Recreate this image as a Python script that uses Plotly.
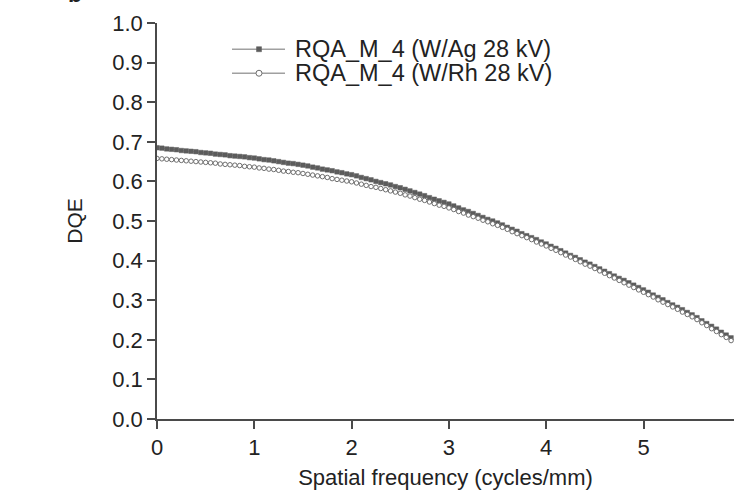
import plotly.graph_objects as go

freq = [0.00, 0.05, 0.10, 0.15, 0.20, 0.25, 0.30, 0.35, 0.40, 0.45,
        0.50, 0.55, 0.60, 0.65, 0.70, 0.75, 0.80, 0.85, 0.90, 0.95,
        1.00, 1.05, 1.10, 1.15, 1.20, 1.25, 1.30, 1.35, 1.40, 1.45,
        1.50, 1.55, 1.60, 1.65, 1.70, 1.75, 1.80, 1.85, 1.90, 1.95,
        2.00, 2.05, 2.10, 2.15, 2.20, 2.25, 2.30, 2.35, 2.40, 2.45,
        2.50, 2.55, 2.60, 2.65, 2.70, 2.75, 2.80, 2.85, 2.90, 2.95,
        3.00, 3.05, 3.10, 3.15, 3.20, 3.25, 3.30, 3.35, 3.40, 3.45,
        3.50, 3.55, 3.60, 3.65, 3.70, 3.75, 3.80, 3.85, 3.90, 3.95,
        4.00, 4.05, 4.10, 4.15, 4.20, 4.25, 4.30, 4.35, 4.40, 4.45,
        4.50, 4.55, 4.60, 4.65, 4.70, 4.75, 4.80, 4.85, 4.90, 4.95,
        5.00, 5.05, 5.10, 5.15, 5.20, 5.25, 5.30, 5.35, 5.40, 5.45,
        5.50, 5.55, 5.60, 5.65, 5.70, 5.75, 5.80, 5.85, 5.90]

dqe_ag = [0.685, 0.684, 0.682, 0.681, 0.680, 0.678, 0.677, 0.676, 0.675, 0.673,
          0.672, 0.671, 0.669, 0.668, 0.667, 0.665, 0.664, 0.663, 0.662, 0.660,
          0.659, 0.657, 0.655, 0.654, 0.652, 0.650, 0.648, 0.646, 0.645, 0.643,
          0.641, 0.639, 0.636, 0.634, 0.631, 0.629, 0.627, 0.624, 0.622, 0.619,
          0.617, 0.614, 0.610, 0.607, 0.604, 0.600, 0.597, 0.594, 0.591, 0.587,
          0.584, 0.580, 0.576, 0.572, 0.568, 0.564, 0.559, 0.555, 0.551, 0.547,
          0.543, 0.538, 0.533, 0.528, 0.524, 0.519, 0.514, 0.509, 0.504, 0.500,
          0.495, 0.490, 0.484, 0.479, 0.474, 0.468, 0.463, 0.458, 0.453, 0.447,
          0.442, 0.436, 0.431, 0.425, 0.419, 0.413, 0.408, 0.402, 0.396, 0.391,
          0.385, 0.379, 0.373, 0.367, 0.361, 0.355, 0.350, 0.344, 0.338, 0.332,
          0.326, 0.320, 0.313, 0.307, 0.301, 0.294, 0.288, 0.282, 0.276, 0.269,
          0.263, 0.256, 0.248, 0.241, 0.234, 0.227, 0.219, 0.212, 0.205]

dqe_rh = [0.658, 0.657, 0.656, 0.655, 0.654, 0.653, 0.652, 0.651, 0.650, 0.649,
          0.648, 0.647, 0.646, 0.644, 0.643, 0.642, 0.641, 0.640, 0.638, 0.637,
          0.636, 0.634, 0.633, 0.631, 0.630, 0.628, 0.626, 0.625, 0.623, 0.622,
          0.620, 0.618, 0.616, 0.614, 0.612, 0.610, 0.607, 0.605, 0.603, 0.601,
          0.599, 0.596, 0.593, 0.590, 0.587, 0.585, 0.582, 0.579, 0.576, 0.573,
          0.570, 0.566, 0.563, 0.559, 0.555, 0.552, 0.548, 0.544, 0.540, 0.537,
          0.533, 0.529, 0.524, 0.520, 0.515, 0.511, 0.507, 0.502, 0.498, 0.493,
          0.489, 0.484, 0.479, 0.473, 0.468, 0.463, 0.458, 0.453, 0.447, 0.442,
          0.437, 0.431, 0.426, 0.420, 0.414, 0.409, 0.403, 0.397, 0.391, 0.386,
          0.380, 0.374, 0.368, 0.362, 0.356, 0.350, 0.344, 0.338, 0.332, 0.326,
          0.320, 0.314, 0.308, 0.301, 0.295, 0.289, 0.283, 0.277, 0.270, 0.264,
          0.258, 0.251, 0.243, 0.236, 0.228, 0.221, 0.213, 0.206, 0.198]

series_names = ["RQA_M_4 (W/Ag 28 kV)", "RQA_M_4 (W/Rh 28 kV)"]
x_ticks = [0, 1, 2, 3, 4, 5]
y_ticks = [0.0, 0.1, 0.2, 0.3, 0.4, 0.5, 0.6, 0.7, 0.8, 0.9, 1.0]

FONT = "Liberation Sans, Arial, sans-serif"
AXC = "#4a4a4a"
TXT = "#222222"
LINE_C = "#a0a0a0"
AG_C = "#5c5c5c"
RH_C = "#6e6e6e"

fig = go.Figure()
fig.add_trace(go.Scatter(
    x=freq, y=dqe_ag, name=series_names[0], mode="lines+markers",
    line=dict(color=LINE_C, width=1.2),
    marker=dict(symbol="square", size=4.5, color=AG_C,
                line=dict(color=AG_C, width=0.5)),
    showlegend=False,
))
fig.add_trace(go.Scatter(
    x=freq, y=dqe_rh, name=series_names[1], mode="lines+markers",
    line=dict(color=LINE_C, width=1.2),
    marker=dict(symbol="circle", size=4.5, color="white",
                line=dict(color=RH_C, width=1)),
    showlegend=False,
))

fig.update_layout(
    width=734, height=495,
    margin=dict(l=157, r=0, t=23, b=76),
    paper_bgcolor="white", plot_bgcolor="white",
    font=dict(family=FONT, size=22, color=TXT),
    xaxis=dict(range=[0, 5.93], tickvals=x_ticks, ticks="outside", ticklen=8,
               tickwidth=1.5, tickcolor=AXC, showline=True, linecolor=AXC,
               linewidth=1.5, showgrid=False, zeroline=False,
               tickfont=dict(size=22),
               title=dict(text="Spatial frequency (cycles/mm)",
                          font=dict(size=22), standoff=10)),
    yaxis=dict(range=[0, 1.0], tickvals=y_ticks, tickformat=".1f",
               ticks="outside", ticklen=8, tickwidth=1.5, tickcolor=AXC,
               showline=True, linecolor=AXC, linewidth=1.5, showgrid=False,
               zeroline=False, tickfont=dict(size=22),
               title=dict(text="DQE", font=dict(size=21), standoff=24)),
)

# custom legend (paper coordinates)
def px_x(p):
    return (p - 157) / 577.0

def px_y(p):
    return (419 - p) / 395.7

rows = [49.5, 73.5]
for i, name in enumerate(series_names):
    yy = px_y(rows[i])
    fig.add_shape(type="line", xref="paper", yref="paper",
                  x0=px_x(232), x1=px_x(285), y0=yy, y1=yy,
                  line=dict(color=LINE_C, width=1.5))
    if i == 0:
        fig.add_shape(type="rect", xref="paper", yref="paper",
                      x0=px_x(256.5), x1=px_x(261.5),
                      y0=px_y(rows[i] + 2.5), y1=px_y(rows[i] - 2.5),
                      fillcolor=AG_C, line=dict(color=AG_C, width=0.5))
    else:
        fig.add_shape(type="circle", xref="paper", yref="paper",
                      x0=px_x(256), x1=px_x(262),
                      y0=px_y(rows[i] + 3), y1=px_y(rows[i] - 3),
                      fillcolor="white", line=dict(color=RH_C, width=1))
    fig.add_annotation(text=name, xref="paper", yref="paper",
                       x=px_x(293), y=yy, xanchor="left", yanchor="middle",
                       showarrow=False, font=dict(size=23.5, color=TXT))

fig.add_annotation(text="<b>b</b>", xref="paper", yref="paper",
                   x=px_x(75), y=px_y(9), xanchor="center", yanchor="bottom",
                   showarrow=False, font=dict(size=23, color=TXT))

fig.write_html("out.html")
